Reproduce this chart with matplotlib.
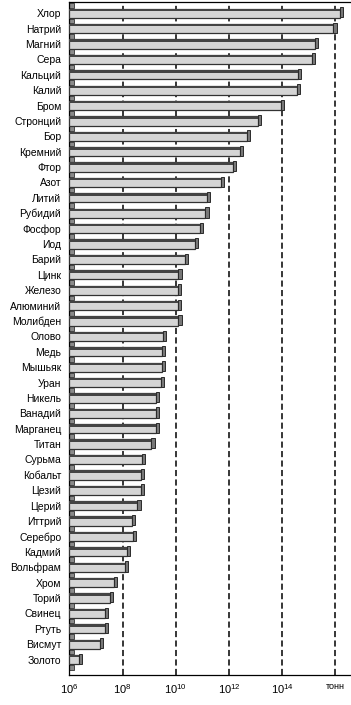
import matplotlib
matplotlib.use("Agg")
import matplotlib.pyplot as plt

# запасы элементов в морской воде, тонн
elements = ['Хлор', 'Натрий', 'Магний', 'Сера', 'Кальций', 'Калий', 'Бром',
            'Стронций', 'Бор', 'Кремний', 'Фтор', 'Азот', 'Литий', 'Рубидий',
            'Фосфор', 'Иод', 'Барий', 'Цинк', 'Железо', 'Алюминий', 'Молибден',
            'Олово', 'Медь', 'Мышьяк', 'Уран', 'Никель', 'Ванадий', 'Марганец',
            'Титан', 'Сурьма', 'Кобальт', 'Цезий', 'Церий', 'Иттрий', 'Серебро',
            'Кадмий', 'Вольфрам', 'Хром', 'Торий', 'Свинец', 'Ртуть', 'Висмут',
            'Золото']
tonnes = [1.5e16, 8.5e15, 1.7e15, 1.3e15, 4.0e14, 3.5e14, 9.0e13,
          1.2e13, 4.7e12, 2.6e12, 1.4e12, 4.9e11, 1.5e11, 1.3e11,
          8.3e10, 5.1e10, 2.2e10, 1.25e10, 1.2e10, 1.2e10, 1.25e10,
          3.2e9, 3.0e9, 3.0e9, 2.8e9, 1.8e9, 1.8e9, 1.8e9,
          1.2e9, 5.2e8, 4.7e8, 4.9e8, 3.6e8, 2.3e8, 2.5e8,
          1.4e8, 1.2e8, 4.8e7, 3.2e7, 2.2e7, 2.1e7, 1.4e7,
          2.2e6]
tick_vals = [1e6, 1e8, 1e10, 1e12, 1e14, 1e16]
tick_labels = [r'$10^{6}$', r'$10^{8}$', r'$10^{10}$', r'$10^{12}$', r'$10^{14}$', 'тонн']

plt.rcParams['font.family'] = ['Liberation Sans', 'DejaVu Sans']
plt.rcParams['mathtext.fontset'] = 'custom'
plt.rcParams['mathtext.rm'] = 'Liberation Sans'

fig = plt.figure(figsize=(3.51, 7.05), dpi=100)
ax = fig.add_axes([0.198, 0.0426, 0.799, 0.954])

x0 = 1e6
ys = list(range(len(elements)))
h = 0.6

# тело столбика
ax.barh(ys, [v - x0 for v in tonnes], left=x0, height=h,
        color='#d5d5d5', edgecolor='#333333', linewidth=0.9, zorder=3)
# тёмная верхняя грань
ax.barh([y - h / 2 + 0.08 for y in ys], [v - x0 for v in tonnes], left=x0,
        height=0.16, color='#444444', linewidth=0, zorder=4)
# торец
ax.barh([y - 0.05 for y in ys], [v * 0.32 for v in tonnes], left=tonnes,
        height=h + 0.06, color='#777777', edgecolor='#2a2a2a', linewidth=0.7, zorder=3)
# задние уголки
stub_y = [y - 0.5 for y in range(len(elements) + 1)]
ax.barh(stub_y, [0.42e6] * len(stub_y), left=x0, height=0.3,
        color='#8a8a8a', edgecolor='#333333', linewidth=0.6, zorder=2)

ax.set_xscale('log')
ax.set_xlim(x0, 10 ** 16.55)
ax.set_ylim(43.0, -0.7)

for t in tick_vals[1:]:
    ax.axvline(t, color='black', linewidth=1.1, linestyle=(0, (4, 2.2)), zorder=1)

ax.set_yticks(ys)
ax.set_yticklabels(elements, fontsize=7.5)
ax.tick_params(axis='y', length=0, pad=6)
ax.set_xticks(tick_vals)
ax.set_xticklabels(tick_labels, fontsize=8)
ax.minorticks_off()
ax.tick_params(axis='x', length=0, pad=5)
ax.get_xticklabels()[-1].set_fontsize(6.5)

ax.spines['right'].set_visible(False)
for s in ['left', 'bottom', 'top']:
    ax.spines[s].set_linewidth(0.9)

fig.savefig('out.png', dpi=100)
